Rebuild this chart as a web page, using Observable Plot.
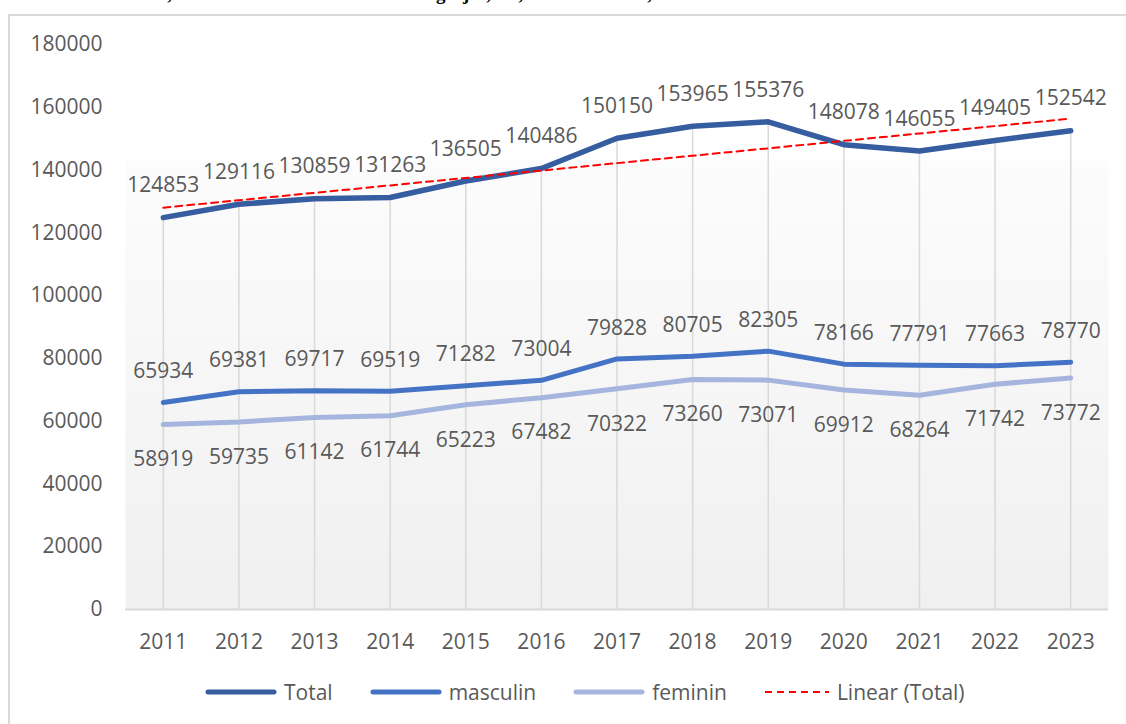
<!DOCTYPE html>
<html>
<head>
<meta charset="utf-8">
<script src="https://cdn.jsdelivr.net/npm/d3@7"></script>
<script src="https://cdn.jsdelivr.net/npm/@observablehq/plot@0.6"></script>
<style>
  html, body { margin: 0; padding: 0; background: #fff; overflow: hidden; }
  body { width: 1126px; height: 724px; position: relative; font-family: "Open Sans", sans-serif; }
  #head { position: absolute; left: 0; top: 0; width: 1126px; height: 13px; overflow: hidden; }
  #head span { position: absolute; top: -17px; font: bold 19px "Liberation Serif", serif; color: #000; white-space: nowrap; }
  #box { position: absolute; left: 8px; top: 14px; width: 1140px; height: 720px; border: 2px solid #d9d9d9; box-sizing: border-box; }
  #chart { position: absolute; left: 0; top: 0; }
  #legend { position: absolute; left: 205px; top: 678px; display: flex; gap: 37px; align-items: center; font-size: 21px; color: #595959; }
  #legend .item { display: flex; align-items: center; gap: 7px; white-space: nowrap; }
</style>
</head>
<body>
<div id="head"></div>
<div id="box"></div>
<div id="chart"></div>
<div id="legend"></div>
<script>
const years = [2011, 2012, 2013, 2014, 2015, 2016, 2017, 2018, 2019, 2020, 2021, 2022, 2023];
const total = [124853, 129116, 130859, 131263, 136505, 140486, 150150, 153965, 155376, 148078, 146055, 149405, 152542];
const masculin = [65934, 69381, 69717, 69519, 71282, 73004, 79828, 80705, 82305, 78166, 77791, 77663, 78770];
const feminin = [58919, 59735, 61142, 61744, 65223, 67482, 70322, 73260, 73071, 69912, 68264, 71742, 73772];
const yTicks = [0, 20000, 40000, 60000, 80000, 100000, 120000, 140000, 160000, 180000];
const seriesNames = ["Total", "masculin", "feminin", "Linear (Total)"];
const seriesColors = ["#355d9f", "#4472c4", "#a6b5dd", "#ff0000"];
const headFragments = [["Numărul total,", 172], ["gen", 436], ["jos,", 463], ["a,", 509], ["anii 2011–2023,", 652]];

const data = years.map((year, i) => ({ year, total: total[i], masculin: masculin[i], feminin: feminin[i] }));

// clipped heading fragments
const head = document.getElementById("head");
headFragments.forEach(([t, x], i) => {
  const s = document.createElement("span");
  s.textContent = t;
  head.appendChild(s);
  if (i === 1 || i === 2 || i === 3) s.style.left = x + "px";
  else s.style.left = (x - s.getBoundingClientRect().width) + "px";
});

const labelFont = { fill: "#595959", fontSize: 21 };

const chart = Plot.plot({
  width: 1126,
  height: 660,
  marginLeft: 125,
  marginRight: 18,
  marginTop: 44,
  marginBottom: 51,
  style: { fontFamily: "'Open Sans', sans-serif", fontSize: "21px", color: "#595959", background: "transparent", overflow: "visible" },
  x: { type: "linear", domain: [2010.5, 2023.5] },
  y: { domain: [0, 180000] },
  marks: [
    Plot.frame({ fill: "url(#plotBg)", stroke: "none" }),
    Plot.ruleX(data, { x: "year", y1: 0, y2: "total", stroke: "#d9d9d9", strokeWidth: 1.5 }),
    Plot.ruleY([0], { stroke: "#d9d9d9", strokeWidth: 2 }),
    Plot.axisX({ ticks: years, tickSize: 0, tickPadding: 25, tickFormat: d => String(d), label: null, fill: "#595959" }),
    Plot.axisY({ ticks: yTicks, tickSize: 0, tickPadding: 23, tickFormat: d => String(d), label: null, fill: "#595959" }),
    Plot.line(data, { x: "year", y: "feminin", stroke: seriesColors[2], strokeWidth: 5, strokeLinejoin: "round", strokeLinecap: "round" }),
    Plot.line(data, { x: "year", y: "masculin", stroke: seriesColors[1], strokeWidth: 5, strokeLinejoin: "round", strokeLinecap: "round" }),
    Plot.line(data, { x: "year", y: "total", stroke: seriesColors[0], strokeWidth: 5.5, strokeLinejoin: "round", strokeLinecap: "round" }),
    Plot.linearRegressionY(data, { x: "year", y: "total", stroke: seriesColors[3], strokeWidth: 2, strokeDasharray: "7 5", ci: 0 }),
    Plot.text(data, { x: "year", y: "total", text: d => String(d.total), dy: -32, ...labelFont }),
    Plot.text(data, { x: "year", y: "masculin", text: d => String(d.masculin), dy: -31, ...labelFont }),
    Plot.text(data, { x: "year", y: "feminin", text: d => String(d.feminin), dy: 35, ...labelFont })
  ]
});

// gradient background for the plot area
const defs = d3.select(chart).insert("defs", ":first-child");
const grad = defs.append("linearGradient").attr("id", "plotBg").attr("x1", 0).attr("y1", 0).attr("x2", 0).attr("y2", 1);
[[0, "#ffffff"], [0.205, "#ffffff"], [0.206, "#fcfcfc"], [1, "#f0f0f0"]].forEach(([o, c]) =>
  grad.append("stop").attr("offset", o).attr("stop-color", c));

document.getElementById("chart").appendChild(chart);

// legend
const legend = document.getElementById("legend");
seriesNames.forEach((name, i) => {
  const item = document.createElement("div");
  item.className = "item";
  const dashed = i === 3;
  const w = dashed ? 66 : 72;
  item.innerHTML = `<svg width="${w}" height="10"><line x1="${dashed ? 1 : 3}" y1="5" x2="${w - (dashed ? 1 : 3)}" y2="5" stroke="${seriesColors[i]}" stroke-width="${dashed ? 2 : 5}" ${dashed ? 'stroke-dasharray="7 5"' : 'stroke-linecap="round"'}/></svg><span>${name}</span>`;
  legend.appendChild(item);
});
</script>
</body>
</html>
